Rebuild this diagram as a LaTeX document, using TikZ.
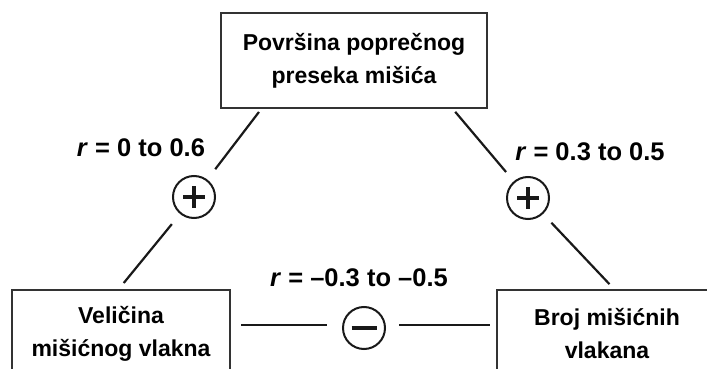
\documentclass[tikz,border=0pt]{standalone}
\usepackage{fontspec}
\setmainfont{Liberation Sans}
\usetikzlibrary{calc}
\begin{document}
\begin{tikzpicture}[x=1pt,y=-1pt,
  boxfont/.style={font=\bfseries\fontsize{23}{33}\selectfont},
  box/.style={draw=black!80,line width=1.4pt,inner sep=0pt,align=center,boxfont},
  sign/.style={draw=black!90,circle,line width=2pt,minimum size=42pt,inner sep=0pt},
  conn/.style={line width=2.2pt,black!90},
  signbar/.style={line width=3.4pt,black!90},
  lab/.style={font=\bfseries\fontsize{25.5}{28}\selectfont,inner sep=0pt}]
\useasboundingbox (0,0) rectangle (707,369);
\clip (0,0) rectangle (707,369);
\node[box,minimum width=266pt,minimum height=95pt] (top) at (354,60.5) {Površina poprečnog\\preseka mišića};
\node[box,minimum width=218pt,minimum height=96pt] (left) at (121,338) {};
\node[box,minimum width=230pt,minimum height=96pt] (right) at (612,338) {};
\node[boxfont,align=center] (ltext) at (121,334) {Veličina\\mišićnog vlakna};
\node[boxfont,align=center] (rtext) at (607,334) {Broj mišićnih\\vlakana};
\node[sign] (p1) at (194,197) {};
\node[sign] (p2) at (528,198) {};
\node[sign] (m1) at (364,328) {};
\draw[signbar] ($(p1.center)+(-11,0)$) -- ($(p1.center)+(11,0)$) ($(p1.center)+(0,-11)$) -- ($(p1.center)+(0,11)$);
\draw[signbar] ($(p2.center)+(-11,0)$) -- ($(p2.center)+(11,0)$) ($(p2.center)+(0,-11)$) -- ($(p2.center)+(0,11)$);
\draw[signbar] ($(m1.center)+(-12.5,0)$) -- ($(m1.center)+(12.5,0)$);
\coordinate (a1) at (262,108);
\coordinate (b1) at (118,290);
\coordinate (a2) at (452,108);
\coordinate (b2) at (615,290);
\coordinate (c1) at (230,325);
\coordinate (c2) at (497,325);
\draw[conn,shorten <=5pt,shorten >=13pt] (a1) -- (p1);
\draw[conn,shorten <=13pt,shorten >=9pt] (p1) -- (b1);
\draw[conn,shorten <=5pt,shorten >=12pt] (a2) -- (p2);
\draw[conn,shorten <=12pt,shorten >=8pt] (p2) -- (b2);
\draw[conn,shorten <=11pt,shorten >=15pt] (c1) -- (c1 -| m1.west);
\draw[conn,shorten <=13pt,shorten >=7pt] (c2 -| m1.east) -- (c2);
\node[lab] (l1) at (141,148) {\textit{r} = 0 to 0.6};
\node[lab] (l2) at (590,152) {\textit{r} = 0.3 to 0.5};
\node[lab] (l3) at (359,278) {\textit{r} = –0.3 to –0.5};
\end{tikzpicture}
\end{document}
